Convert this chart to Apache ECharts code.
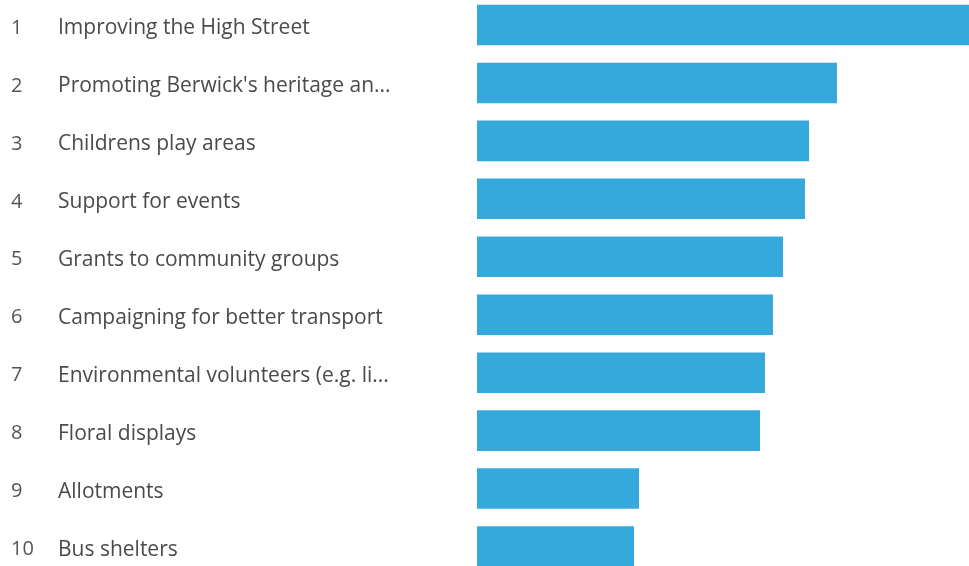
<!DOCTYPE html>
<html><head><meta charset="utf-8">
<script src="https://cdn.jsdelivr.net/npm/echarts@6/dist/echarts.min.js"></script>
<style>html,body{margin:0;padding:0;background:#fff}#c{width:969px;height:566px}</style>
</head><body><div id="c"></div>
<script>
const ranks = ['1','2','3','4','5','6','7','8','9','10'];
const categories = [
  'Improving the High Street',
  "Promoting Berwick's heritage an...",
  'Childrens play areas',
  'Support for events',
  'Grants to community groups',
  'Campaigning for better transport',
  'Environmental volunteers (e.g. li...',
  'Floral displays',
  'Allotments',
  'Bus shelters'
];
const values = [123, 90, 83, 82, 76.5, 74, 72, 70.75, 40.5, 39.25];

const chart = echarts.init(document.getElementById('c'));
chart.setOption({
  animation: false,
  grid: { left: 477, right: 0, top: -4, height: 579.5, containLabel: false, outerBoundsMode: 'none' },
  xAxis: { type: 'value', min: 0, max: 123, show: false },
  yAxis: {
    type: 'category', inverse: true, data: categories,
    axisLine: { show: false }, axisTick: { show: false },
    axisLabel: {
      align: 'left', margin: 466, padding: [6, 0, 0, 0],
      formatter: (v, i) => '{n|' + ranks[i] + '}{t|' + v + '}',
      rich: {
        n: { width: 47, fontSize: 20, color: '#555', fontFamily: 'Open Sans' },
        t: { fontSize: 21, color: '#4a4a4a', fontFamily: 'Open Sans' }
      }
    }
  },
  series: [{
    type: 'bar', data: values, barWidth: '70%',
    itemStyle: { color: '#36a9dc' }
  }]
});
</script></body></html>
